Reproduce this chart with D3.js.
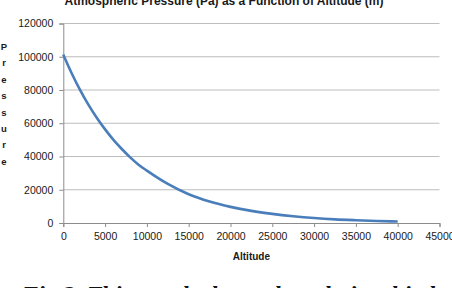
<!DOCTYPE html>
<html>
<head>
<meta charset="utf-8">
<script src="https://cdn.jsdelivr.net/npm/d3@7"></script>
<style>
  body { margin: 0; background: #fff; }
  svg { display: block; }
</style>
</head>
<body>
<div id="chart"></div>
<script>
// Altitude (m) and pressure (Pa)
const altitudes = [0, 1000, 2000, 3000, 4000, 5000, 6000, 7000, 8000, 9000, 10000,
  12500, 15000, 17500, 20000, 22500, 25000, 27500, 30000, 32500, 35000, 37500, 40000];
const pressures = [101325, 90100, 80100, 71200, 63300, 56300, 50000, 44500, 39500, 35100, 31500,
  23500, 17300, 12900, 9700, 7300, 5500, 4100, 3000, 2200, 1650, 1200, 900];

const xTicks = [0, 5000, 10000, 15000, 20000, 25000, 30000, 35000, 40000, 45000];
const yTicks = [0, 20000, 40000, 60000, 80000, 100000, 120000];

const titleText = "Atmospheric Pressure (Pa) as a Function of Altitude (m)";
const xLabel = "Altitude";
const yLabel = "Pressure";
const caption = "Fig 2. This graph shows the relationship between pressure and altitude";

// Setup
const svgWidth = 452;
const svgHeight = 288;
const margin = {top: 23.5, right: 12.5, bottom: 65, left: 63.3};
const width = svgWidth - margin.left - margin.right;
const height = svgHeight - margin.top - margin.bottom;
const font = "'Liberation Sans', Arial, sans-serif";

const svg = d3.select("#chart")
    .append("svg")
    .attr("width", svgWidth)
    .attr("height", svgHeight);

const x = d3.scaleLinear()
    .domain([0, 45000])
    .range([0, width]);

const y = d3.scaleLinear()
    .domain([0, 120000])
    .range([height, 0]);

const g = svg.append("g")
    .attr("transform", `translate(${margin.left},${margin.top})`);

// Horizontal gridlines
g.selectAll(".grid")
  .data(yTicks.filter(d => d > 0))
  .join("line")
    .attr("class", "grid")
    .attr("x1", 0)
    .attr("x2", width)
    .attr("y1", d => y(d))
    .attr("y2", d => y(d))
    .attr("stroke", "#bdbdbd")
    .attr("stroke-width", 1);

// Axes
const xAxis = g.append("g")
    .attr("transform", `translate(0,${height})`)
    .call(d3.axisBottom(x).tickValues(xTicks).tickSize(4).tickPadding(6).tickFormat(d3.format("d")));

const yAxis = g.append("g")
    .call(d3.axisLeft(y).tickValues(yTicks).tickSize(4).tickPadding(6).tickFormat(d3.format("d")));

[xAxis, yAxis].forEach(a => {
  a.select(".domain").attr("stroke", "#8c8c8c");
  a.selectAll(".tick line").attr("stroke", "#8c8c8c");
  a.selectAll(".tick text")
    .attr("fill", "#1a1a1a")
    .style("font-family", font)
    .style("font-size", "10.5px");
});

// Pressure curve
const line = d3.line()
    .x((d, i) => x(altitudes[i]))
    .y(d => y(d))
    .curve(d3.curveMonotoneX);

g.append("path")
    .datum(pressures)
    .attr("fill", "none")
    .attr("stroke", "#4a7ebb")
    .attr("stroke-width", 2.6)
    .attr("d", line);

// Title (top is cut off in the reference)
svg.append("text")
    .attr("x", 224)
    .attr("y", 5)
    .attr("text-anchor", "middle")
    .style("font-family", font)
    .style("font-weight", "bold")
    .style("font-size", "12px")
    .attr("fill", "#1a1a1a")
    .text(titleText);

// X axis label
svg.append("text")
    .attr("x", margin.left + width / 2)
    .attr("y", 260)
    .attr("text-anchor", "middle")
    .style("font-family", font)
    .style("font-weight", "bold")
    .style("font-size", "10px")
    .attr("fill", "#1a1a1a")
    .text(xLabel);

// Y axis label, one letter per row
svg.append("g")
  .selectAll("text")
  .data(yLabel.split(""))
  .join("text")
    .attr("x", 4)
    .attr("y", (d, i) => 50 + i * 16.4)
    .attr("text-anchor", "middle")
    .style("font-family", font)
    .style("font-weight", "bold")
    .style("font-size", "9.5px")
    .attr("fill", "#1a1a1a")
    .text(d => d);

// Figure caption below the chart, mostly below the bottom edge
svg.append("text")
    .attr("x", 22)
    .attr("y", 302)
    .style("font-family", "'Liberation Serif', 'Times New Roman', serif")
    .style("font-weight", "bold")
    .style("font-style", "italic")
    .style("font-size", "24px")
    .attr("fill", "#111")
    .text(caption);
</script>
</body>
</html>
